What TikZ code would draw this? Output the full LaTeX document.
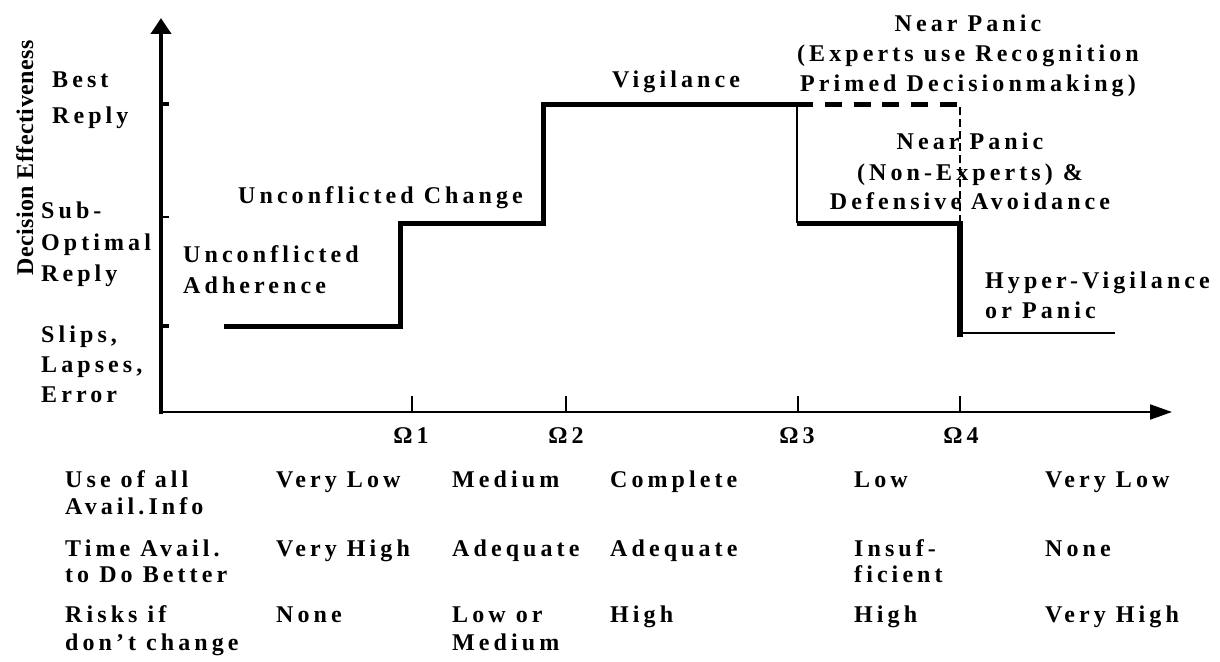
\documentclass[tikz,border=0pt]{standalone}
\usepackage{fontspec}
\setmainfont{Liberation Serif}
\newfontfamily\trackedfont[LetterSpace=17]{Liberation Serif}
\newfontfamily\axisfont[LetterSpace=2]{Liberation Serif}
\usetikzlibrary{arrows.meta}

\begin{document}
\begin{tikzpicture}[x=1pt,y=-1pt,
  lbl/.style={inner sep=0pt, anchor=base west,
    font=\trackedfont\bfseries\fontsize{24}{30}\selectfont},
  clbl/.style={lbl, anchor=base},
  axisline/.style={line width=4.5pt},
  thickstep/.style={line width=5pt, line join=miter},
  thinstep/.style={line width=1.6pt},
  tick/.style={line width=1.5pt}
]
\useasboundingbox (0,0) rectangle (1220,661);

% ---------- axes ----------
\coordinate (origin) at (161,414);
\coordinate (ytop) at (161,18);
\coordinate (xorigin) at (159,412);
\coordinate (xend) at (1172,412);
\draw[axisline, -{Triangle[width=20pt,length=16pt]}] (origin) -- (ytop);
\draw[line width=2pt, -{Triangle[width=15pt,length=22pt]}] (xorigin) -- (xend);

% ticks on the effectiveness axis
\draw[line width=4pt] (161,104) -- (169,104);
\draw[tick] (161,217) -- (169,217);
\draw[line width=4pt] (161,326) -- (169,326);

% threshold ticks on the time axis
\foreach \name/\x in {o1/412, o2/566, o3/798, o4/960}{
  \coordinate (\name-top) at (\x,396);
  \coordinate (\name-bot) at (\x,412);
  \draw[tick] (\name-top) -- (\name-bot);
}

% ---------- decision-effectiveness curve ----------
\coordinate (s0) at (224,326);
\coordinate (s1) at (400,326);
\coordinate (s2) at (400,223);
\coordinate (s3) at (543,223);
\coordinate (s4) at (543,104);
\coordinate (s5) at (797,104);
\coordinate (s6) at (797,223);
\coordinate (s7) at (960,223);
\coordinate (s8) at (960,337);
\coordinate (s9) at (960,104);
\coordinate (s10) at (963,333);
\coordinate (s11) at (1115,333);

\draw[thickstep] (s0) -- (s1) -- (s2) -- (s3) -- (s4) -- (s5);
\draw[thinstep] (s5) -- (s6);
\draw[thickstep] (s6) -- (s7);
\draw[line width=6pt] (960,221) -- (s8);
\draw[line width=5pt, dash pattern=on 17pt off 11.8pt] (796,104) -- (s9);
\draw[line width=1.4pt, dash pattern=on 8pt off 4pt] (960,107) -- (960,222);
\draw[thinstep] (s10) -- (s11);

% ---------- effectiveness levels ----------
\node[rotate=90, anchor=base, inner sep=0pt,
      font=\axisfont\bfseries\fontsize{24}{28}\selectfont] (yaxis) at (33,158) {Decision Effectiveness};

\node[lbl] (best1) at (52,88) {Best};
\node[lbl] (best2) at (52,123) {Reply};
\node[lbl] (sub1) at (41,218) {Sub-};
\node[lbl] (sub2) at (41,250) {Optimal};
\node[lbl] (sub3) at (41,281) {Reply};
\node[lbl] (slip1) at (41,342) {Slips,};
\node[lbl] (slip2) at (41,372) {Lapses,};
\node[lbl] (slip3) at (41,402) {Error};

% ---------- stage labels ----------
\node[lbl] (ua1) at (183,262) {Unconflicted};
\node[lbl] (ua2) at (183,293) {Adherence};
\node[lbl] (uc) at (238,203) {Unconflicted Change};
\node[lbl] (vig) at (612,88) {Vigilance};
\node[clbl] (np1) at (968,32) {Near Panic};
\node[clbl] (np2) at (968,62) {(Experts use Recognition};
\node[clbl] (np3) at (968,92) {Primed Decisionmaking)};
\node[clbl] (nd1) at (970,149) {Near Panic};
\node[clbl] (nd2) at (970,180) {(Non-Experts) \&};
\node[clbl] (nd3) at (970,209) {Defensive Avoidance};
\node[lbl] (hv1) at (985,288) {Hyper-Vigilance};
\node[lbl] (hv2) at (985,318) {or Panic};

% ---------- thresholds ----------
\node[clbl] (om1) at (411,443) {Ω1};
\node[clbl] (om2) at (566,443) {Ω2};
\node[clbl] (om3) at (797,443) {Ω3};
\node[clbl] (om4) at (961,443) {Ω4};

% ---------- table of conditions ----------
\node[lbl] (r1a) at (65,487) {Use of all};
\node[lbl] (r1b) at (65,514) {Avail.Info};
\node[lbl] (r2a) at (65,556) {Time Avail.};
\node[lbl] (r2b) at (65,582) {to Do Better};
\node[lbl] (r3a) at (65,622) {Risks if};
\node[lbl] (r3b) at (65,650) {don’t change};

\node[lbl] (c11) at (276,487) {Very Low};
\node[lbl] (c12) at (452,487) {Medium};
\node[lbl] (c13) at (610,487) {Complete};
\node[lbl] (c14) at (854,487) {Low};
\node[lbl] (c15) at (1045,487) {Very Low};

\node[lbl] (c21) at (276,556) {Very High};
\node[lbl] (c22) at (452,556) {Adequate};
\node[lbl] (c23) at (610,556) {Adequate};
\node[lbl] (c24a) at (854,556) {Insuf-};
\node[lbl] (c24b) at (854,582) {ficient};
\node[lbl] (c25) at (1045,556) {None};

\node[lbl] (c31) at (276,622) {None};
\node[lbl] (c32a) at (452,622) {Low or};
\node[lbl] (c32b) at (452,650) {Medium};
\node[lbl] (c33) at (610,622) {High};
\node[lbl] (c34) at (854,622) {High};
\node[lbl] (c35) at (1045,622) {Very High};
\end{tikzpicture}
\end{document}
